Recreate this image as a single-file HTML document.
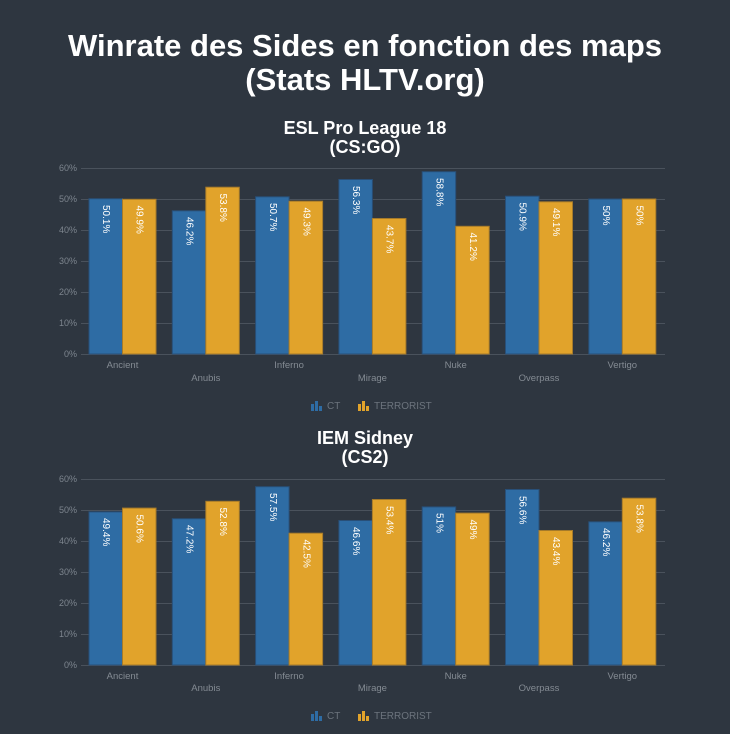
<!DOCTYPE html>
<html><head><meta charset="utf-8"><style>
html,body{margin:0;padding:0;background:#2e3640;}
svg{display:block;font-family:"Liberation Sans",sans-serif;}
.t{fill:#fff;font-weight:bold;font-size:31px;text-anchor:middle}
.s{fill:#fff;font-size:18px;font-weight:bold;text-anchor:middle}
.g{stroke:#4a525c;stroke-width:1}
.y{fill:#7d858e;font-size:9px;text-anchor:end}
.x{fill:#848b93;font-size:9.5px;text-anchor:middle}
.b{fill:#2e6ca4;stroke:#284f78;stroke-width:1}
.o{fill:#e1a32b;stroke:#a57a2a;stroke-width:1}
.v{fill:#fff;font-size:10px;dominant-baseline:central}
.l{fill:#6c747d;font-size:10px}
</style></head><body>
<svg width="730" height="734" viewBox="0 0 730 734">
<rect width="730" height="734" fill="#2e3640"/>
<text class="t" x="365" y="56">Winrate des Sides en fonction des maps</text>
<text class="t" x="365" y="90">(Stats HLTV.org)</text>

<g id="c1">
<text class="s" x="365" y="134">ESL Pro League 18</text>
<text class="s" x="365" y="153">(CS:GO)</text>
<g>
<line class="g" x1="81" x2="665" y1="168.5" y2="168.5"/><line class="g" x1="81" x2="665" y1="199.5" y2="199.5"/><line class="g" x1="81" x2="665" y1="230.5" y2="230.5"/><line class="g" x1="81" x2="665" y1="261.5" y2="261.5"/><line class="g" x1="81" x2="665" y1="292.5" y2="292.5"/><line class="g" x1="81" x2="665" y1="323.5" y2="323.5"/><line class="g" x1="81" x2="665" y1="354.5" y2="354.5"/>
<text class="y" x="77" y="171">60%</text><text class="y" x="77" y="202">50%</text><text class="y" x="77" y="233">40%</text><text class="y" x="77" y="264">30%</text><text class="y" x="77" y="295">20%</text><text class="y" x="77" y="326">10%</text><text class="y" x="77" y="357">0%</text>
</g>
<rect class="b" x="89" y="198.7" width="33.5" height="155.3"/><rect class="o" x="122.5" y="199.3" width="33.5" height="154.7"/>
<rect class="b" x="172.3" y="210.8" width="33.5" height="143.2"/><rect class="o" x="205.8" y="187.2" width="33.5" height="166.8"/>
<rect class="b" x="255.6" y="196.8" width="33.5" height="157.2"/><rect class="o" x="289.1" y="201.2" width="33.5" height="152.8"/>
<rect class="b" x="338.9" y="179.5" width="33.5" height="174.5"/><rect class="o" x="372.4" y="218.5" width="33.5" height="135.5"/>
<rect class="b" x="422.2" y="171.7" width="33.5" height="182.3"/><rect class="o" x="455.7" y="226.3" width="33.5" height="127.7"/>
<rect class="b" x="505.5" y="196.2" width="33.5" height="157.8"/><rect class="o" x="539" y="201.8" width="33.5" height="152.2"/>
<rect class="b" x="588.8" y="199" width="33.5" height="155"/><rect class="o" x="622.3" y="199" width="33.5" height="155"/>
<text class="v" transform="translate(105.7,205) rotate(90)">50.1%</text><text class="v" transform="translate(139.2,205.5) rotate(90)">49.9%</text>
<text class="v" transform="translate(189,217) rotate(90)">46.2%</text><text class="v" transform="translate(222.5,193.5) rotate(90)">53.8%</text>
<text class="v" transform="translate(272.3,203) rotate(90)">50.7%</text><text class="v" transform="translate(305.8,207.5) rotate(90)">49.3%</text>
<text class="v" transform="translate(355.6,186) rotate(90)">56.3%</text><text class="v" transform="translate(389.1,225) rotate(90)">43.7%</text>
<text class="v" transform="translate(438.9,178) rotate(90)">58.8%</text><text class="v" transform="translate(472.4,232.5) rotate(90)">41.2%</text>
<text class="v" transform="translate(522.2,202.5) rotate(90)">50.9%</text><text class="v" transform="translate(555.7,208) rotate(90)">49.1%</text>
<text class="v" transform="translate(605.5,205.5) rotate(90)">50%</text><text class="v" transform="translate(639,205.5) rotate(90)">50%</text>
<text class="x" x="122.5" y="368">Ancient</text><text class="x" x="205.8" y="381">Anubis</text><text class="x" x="289.1" y="368">Inferno</text><text class="x" x="372.4" y="381">Mirage</text><text class="x" x="455.7" y="368">Nuke</text><text class="x" x="539" y="381">Overpass</text><text class="x" x="622.3" y="368">Vertigo</text>
<g transform="translate(311,401)"><rect x="0" y="3" width="3" height="7" fill="#2e6ca4"/><rect x="4" y="0" width="3" height="10" fill="#2e6ca4"/><rect x="8" y="5" width="3" height="5" fill="#2e6ca4"/></g>
<text class="l" x="327" y="409">CT</text>
<g transform="translate(358,401)"><rect x="0" y="3" width="3" height="7" fill="#e1a32b"/><rect x="4" y="0" width="3" height="10" fill="#e1a32b"/><rect x="8" y="5" width="3" height="5" fill="#e1a32b"/></g>
<text class="l" x="374" y="409">TERRORIST</text>
</g>

<g transform="translate(0,311)">
<text class="s" x="365" y="133">IEM Sidney</text>
<text class="s" x="365" y="152">(CS2)</text>
<g>
<line class="g" x1="81" x2="665" y1="168.5" y2="168.5"/><line class="g" x1="81" x2="665" y1="199.5" y2="199.5"/><line class="g" x1="81" x2="665" y1="230.5" y2="230.5"/><line class="g" x1="81" x2="665" y1="261.5" y2="261.5"/><line class="g" x1="81" x2="665" y1="292.5" y2="292.5"/><line class="g" x1="81" x2="665" y1="323.5" y2="323.5"/><line class="g" x1="81" x2="665" y1="354.5" y2="354.5"/>
<text class="y" x="77" y="171">60%</text><text class="y" x="77" y="202">50%</text><text class="y" x="77" y="233">40%</text><text class="y" x="77" y="264">30%</text><text class="y" x="77" y="295">20%</text><text class="y" x="77" y="326">10%</text><text class="y" x="77" y="357">0%</text>
</g>
<rect class="b" x="89" y="200.9" width="33.5" height="153.1"/><rect class="o" x="122.5" y="197.1" width="33.5" height="156.9"/>
<rect class="b" x="172.3" y="207.7" width="33.5" height="146.3"/><rect class="o" x="205.8" y="190.3" width="33.5" height="163.7"/>
<rect class="b" x="255.6" y="175.7" width="33.5" height="178.3"/><rect class="o" x="289.1" y="222.2" width="33.5" height="131.8"/>
<rect class="b" x="338.9" y="209.5" width="33.5" height="144.5"/><rect class="o" x="372.4" y="188.5" width="33.5" height="165.5"/>
<rect class="b" x="422.2" y="195.9" width="33.5" height="158.1"/><rect class="o" x="455.7" y="202.1" width="33.5" height="151.9"/>
<rect class="b" x="505.5" y="178.5" width="33.5" height="175.5"/><rect class="o" x="539" y="219.5" width="33.5" height="134.5"/>
<rect class="b" x="588.8" y="210.8" width="33.5" height="143.2"/><rect class="o" x="622.3" y="187.2" width="33.5" height="166.8"/>
<text class="v" transform="translate(105.7,207) rotate(90)">49.4%</text><text class="v" transform="translate(139.2,203.5) rotate(90)">50.6%</text>
<text class="v" transform="translate(189,214) rotate(90)">47.2%</text><text class="v" transform="translate(222.5,196.5) rotate(90)">52.8%</text>
<text class="v" transform="translate(272.3,182) rotate(90)">57.5%</text><text class="v" transform="translate(305.8,228.5) rotate(90)">42.5%</text>
<text class="v" transform="translate(355.6,216) rotate(90)">46.6%</text><text class="v" transform="translate(389.1,195) rotate(90)">53.4%</text>
<text class="v" transform="translate(438.9,202) rotate(90)">51%</text><text class="v" transform="translate(472.4,208.5) rotate(90)">49%</text>
<text class="v" transform="translate(522.2,185) rotate(90)">56.6%</text><text class="v" transform="translate(555.7,226) rotate(90)">43.4%</text>
<text class="v" transform="translate(605.5,217) rotate(90)">46.2%</text><text class="v" transform="translate(639,193.5) rotate(90)">53.8%</text>
<text class="x" x="122.5" y="368">Ancient</text><text class="x" x="205.8" y="380">Anubis</text><text class="x" x="289.1" y="368">Inferno</text><text class="x" x="372.4" y="380">Mirage</text><text class="x" x="455.7" y="368">Nuke</text><text class="x" x="539" y="380">Overpass</text><text class="x" x="622.3" y="368">Vertigo</text>
<g transform="translate(311,400)"><rect x="0" y="3" width="3" height="7" fill="#2e6ca4"/><rect x="4" y="0" width="3" height="10" fill="#2e6ca4"/><rect x="8" y="5" width="3" height="5" fill="#2e6ca4"/></g>
<text class="l" x="327" y="408">CT</text>
<g transform="translate(358,400)"><rect x="0" y="3" width="3" height="7" fill="#e1a32b"/><rect x="4" y="0" width="3" height="10" fill="#e1a32b"/><rect x="8" y="5" width="3" height="5" fill="#e1a32b"/></g>
<text class="l" x="374" y="408">TERRORIST</text>
</g>
</svg>
</body></html>
